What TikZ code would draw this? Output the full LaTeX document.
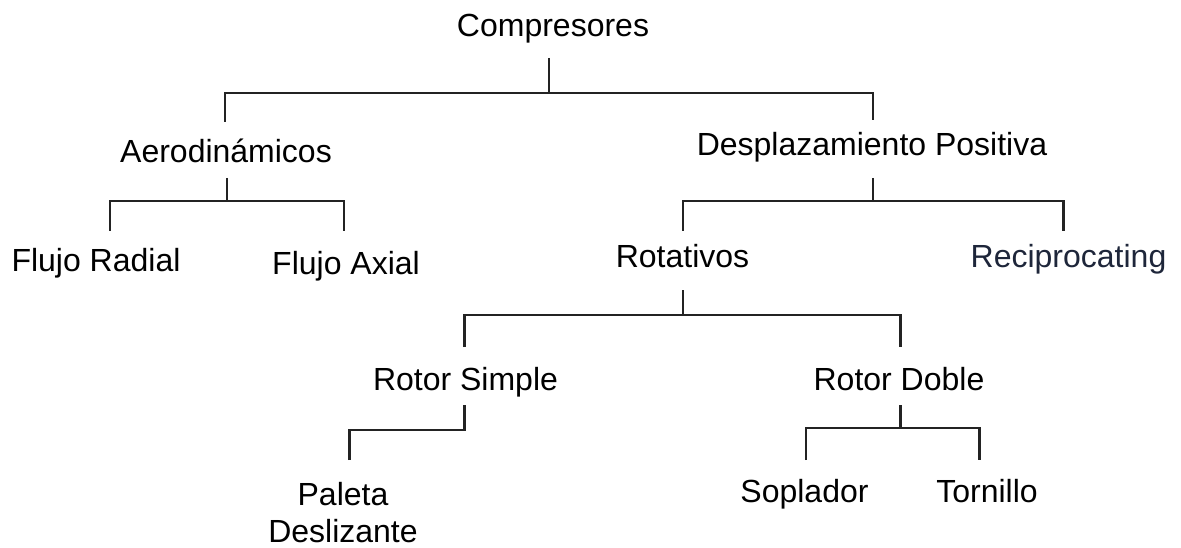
\documentclass[tikz,border=0pt]{standalone}
\usepackage{fontspec}
\setmainfont{Liberation Sans}
\definecolor{linec}{RGB}{35,35,35}
\definecolor{recipc}{RGB}{30,38,58}
\begin{document}
\begin{tikzpicture}[x=1pt,y=-1pt,
  lbl/.style={anchor=base,inner sep=0pt,font=\fontsize{32}{37}\selectfont},
  conn/.style={draw=linec,line width=2.8pt,line cap=butt,line join=miter}]
\useasboundingbox (0,0) rectangle (1181,548);
% nodes
\node[lbl] (comp) at (553,37) {Compresores};
\node[lbl] (aero) at (226,163) {Aerodinámicos};
\node[lbl] (dp) at (872,156) {Desplazamiento Positiva};
\node[lbl] (fr) at (96,272) {Flujo Radial};
\node[lbl] (fa) at (346,274) {Flujo Axial};
\node[lbl] (rot) at (682.5,268) {Rotativos};
\node[lbl,text=recipc] (rec) at (1068.5,268) {Reciprocating};
\node[lbl] (rs) at (465.5,390) {Rotor Simple};
\node[lbl] (rd) at (899,390) {Rotor Doble};
\node[lbl,align=center] (pal) at (343,542) {Paleta\\Deslizante};
\node[lbl] (sop) at (804.5,502) {Soplador};
\node[lbl] (tor) at (987,502) {Tornillo};
% connector points
\coordinate (comp-s) at (549,58);
\coordinate (bar1) at (549,93);
\coordinate (aero-n) at (225,122);
\coordinate (dp-n) at (873,120);
\coordinate (aero-s) at (227,178);
\coordinate (bar2) at (227,201);
\coordinate (fr-n) at (110,231);
\coordinate (fa-n) at (344,231);
\coordinate (dp-s) at (873,178);
\coordinate (bar3) at (873,201);
\coordinate (rot-n) at (683,231);
\coordinate (rec-n) at (1063.5,231);
\coordinate (rot-s) at (683,290);
\coordinate (bar4) at (683,315);
\coordinate (rs-n) at (464.5,347);
\coordinate (rd-n) at (900.5,347);
\coordinate (rs-s) at (464.5,405);
\coordinate (bar5) at (464.5,430);
\coordinate (pal-n) at (349.5,460);
\coordinate (rd-s) at (900.5,405);
\coordinate (bar6) at (900.5,428);
\coordinate (sop-n) at (806,460);
\coordinate (tor-n) at (979.5,460);
% connectors
\draw[conn] (comp-s) -- (bar1);
\draw[conn] (aero-n) -- (aero-n |- bar1) -- (dp-n |- bar1) -- (dp-n);
\draw[conn] (aero-s) -- (bar2);
\draw[conn] (fr-n) -- (fr-n |- bar2) -- (fa-n |- bar2) -- (fa-n);
\draw[conn] (dp-s) -- (bar3);
\draw[conn] (rot-n) -- (rot-n |- bar3) -- (rec-n |- bar3) -- (rec-n);
\draw[conn] (rot-s) -- (bar4);
\draw[conn] (rs-n) -- (rs-n |- bar4) -- (rd-n |- bar4) -- (rd-n);
\draw[conn] (pal-n) -- (pal-n |- bar5) -- (bar5) -- (rs-s);
\draw[conn] (rd-s) -- (bar6);
\draw[conn] (sop-n) -- (sop-n |- bar6) -- (tor-n |- bar6) -- (tor-n);
\end{tikzpicture}
\end{document}
